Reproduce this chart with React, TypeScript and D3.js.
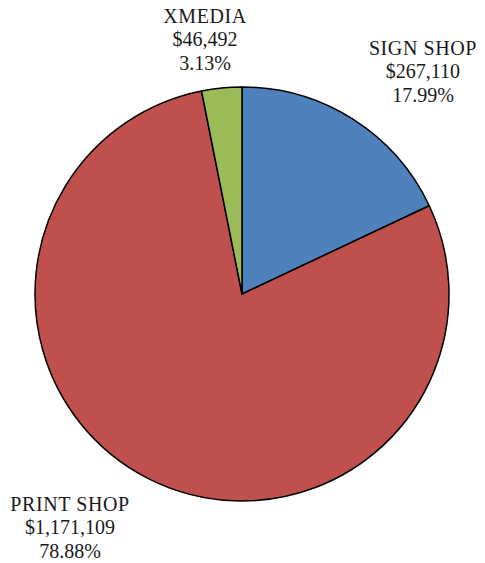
import React from "react";
import * as d3 from "d3";

const categories = ["SIGN SHOP", "PRINT SHOP", "XMEDIA"];
const values = [267110, 1171109, 46492];
const percents = ["17.99%", "78.88%", "3.13%"];
const colors = ["#4F81BD", "#C0504D", "#9BBB59"];
// label anchor (center x, first baseline y)
const labelPos: [number, number][] = [
  [423, 55],
  [70, 511],
  [205, 23],
];

export default function App() {
  const width = 485;
  const height = 563;
  const cx = 242;
  const cy = 294;
  const r = 207;
  const pie = d3.pie<number>().sort(null).value((d) => d);
  const arcs = pie(values);
  const arc = d3.arc<d3.PieArcDatum<number>>().innerRadius(0).outerRadius(r);
  const fmt = d3.format(",");
  return (
    <svg
      width={width}
      height={height}
      style={{ position: "absolute", left: 0, top: 0 }}
      fontFamily="'Liberation Serif', serif"
    >
      <g transform={`translate(${cx},${cy})`}>
        {arcs.map((a, i) => (
          <path
            key={i}
            d={arc(a) || ""}
            fill={colors[i]}
            stroke="#000"
            strokeWidth={1.5}
            strokeLinejoin="round"
          />
        ))}
      </g>
      {categories.map((c, i) => {
        const [x, y] = labelPos[i];
        return (
          <text key={c} x={x} y={y} textAnchor="middle" fontSize={20} fill="#1a1a1a">
            <tspan x={x} dy={0} letterSpacing={0.6}>{c}</tspan>
            <tspan x={x} dy={23.3}>{"$" + fmt(values[i])}</tspan>
            <tspan x={x} dy={23.3}>{percents[i]}</tspan>
          </text>
        );
      })}
    </svg>
  );
}
